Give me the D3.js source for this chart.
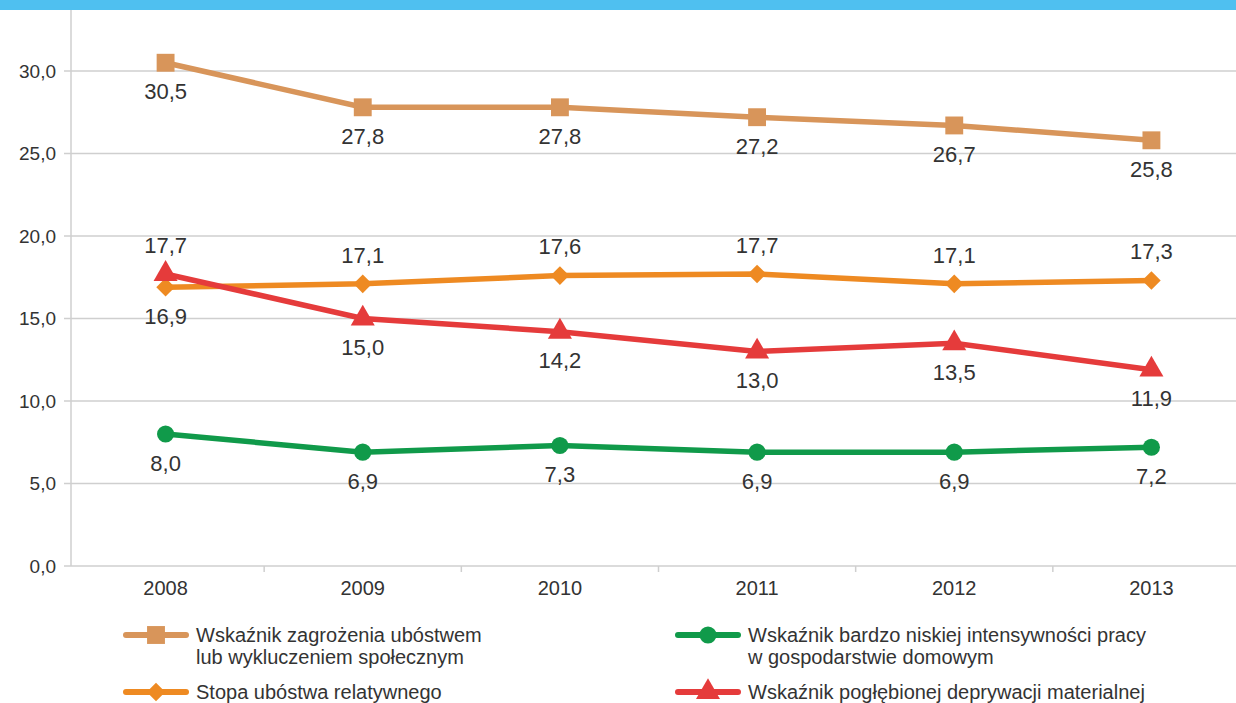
<!DOCTYPE html>
<meta charset="utf-8">
<html lang="pl">
<style>
body { margin: 0; background: #fff; }
.grid line { stroke: #cfcfcf; stroke-width: 1.5px; }
.line { fill: none; stroke-width: 5.5px; }
text { font-family: "Liberation Sans", Arial, sans-serif; fill: #333; }
</style>
<body>
<script src="https://d3js.org/d3.v7.min.js"></script>
<script>

// data
var years = ["2008", "2009", "2010", "2011", "2012", "2013"];
var yTicks = [0, 5, 10, 15, 20, 25, 30];

var zagrozenie = [30.5, 27.8, 27.8, 27.2, 26.7, 25.8];
var ubostwoRel = [16.9, 17.1, 17.6, 17.7, 17.1, 17.3];
var deprywacja = [17.7, 15.0, 14.2, 13.0, 13.5, 11.9];
var intensywnosc = [8.0, 6.9, 7.3, 6.9, 6.9, 7.2];

// label above (-1) or below (+1) the point
var posZagrozenie = [1, 1, 1, 1, 1, 1];
var posUbostwoRel = [1, -1, -1, -1, -1, -1];
var posDeprywacja = [-1, 1, 1, 1, 1, 1];
var posIntensywnosc = [1, 1, 1, 1, 1, 1];

var series = [
  {name: ["Wskaźnik zagrożenia ubóstwem", "lub wykluczeniem społecznym"], values: zagrozenie, pos: posZagrozenie, color: "#d8955a", symbol: d3.symbolSquare, size: 320},
  {name: ["Stopa ubóstwa relatywnego"], values: ubostwoRel, pos: posUbostwoRel, color: "#ee8a22", symbol: d3.symbolDiamond2, size: 220},
  {name: ["Wskaźnik bardzo niskiej intensywności pracy", "w gospodarstwie domowym"], values: intensywnosc, pos: posIntensywnosc, color: "#109a4a", symbol: d3.symbolCircle, size: 230},
  {name: ["Wskaźnik pogłębionej deprywacji materialnej"], values: deprywacja, pos: posDeprywacja, color: "#e53b3b", symbol: d3.symbolTriangle, size: 250}
];

var W = 1236, H = 703;

var svg = d3.select("body").append("svg")
    .attr("width", W)
    .attr("height", H);

// top band
svg.append("rect")
    .attr("x", 0).attr("y", 0)
    .attr("width", W).attr("height", 10)
    .attr("fill", "#4fc0f0");

var x = d3.scaleBand().domain(years).range([67, 1250]);
var y = d3.scaleLinear().domain([0, 35]).range([566, -11.5]);
var cx = function(i) { return x(years[i]) + x.bandwidth() / 2; };

// grid lines
svg.append("g").attr("class", "grid")
  .selectAll("line").data(yTicks).enter().append("line")
    .attr("x1", 64).attr("x2", W)
    .attr("y1", function(d) { return y(d); })
    .attr("y2", function(d) { return y(d); });

// y axis line
svg.append("line")
    .attr("x1", 71).attr("x2", 71)
    .attr("y1", 10).attr("y2", y(0))
    .attr("stroke", "#cfcfcf").attr("stroke-width", 1.5);

// x ticks between categories
svg.append("g").selectAll("line").data(years.slice(1)).enter().append("line")
    .attr("x1", function(d) { return x(d); })
    .attr("x2", function(d) { return x(d); })
    .attr("y1", y(0)).attr("y2", y(0) + 6)
    .attr("stroke", "#cfcfcf").attr("stroke-width", 1.5);

// y tick labels
svg.append("g").selectAll("text").data(yTicks).enter().append("text")
    .attr("x", 56)
    .attr("y", function(d) { return y(d); })
    .attr("dy", "0.35em")
    .attr("text-anchor", "end")
    .style("font-size", "19px")
    .text(function(d) { return d3.format(".1f")(d).replace(".", ","); });

// x labels
svg.append("g").selectAll("text").data(years).enter().append("text")
    .attr("x", function(d, i) { return cx(i); })
    .attr("y", 588)
    .attr("dy", "0.35em")
    .attr("text-anchor", "middle")
    .style("font-size", "20px")
    .text(function(d) { return d; });

var line = d3.line()
    .x(function(d, i) { return cx(i); })
    .y(function(d) { return y(d); });

series.forEach(function(s) {
  svg.append("path")
      .datum(s.values)
      .attr("class", "line")
      .attr("stroke", s.color)
      .attr("d", line);
});

series.forEach(function(s) {
  var g = svg.append("g");
  g.selectAll("path").data(s.values).enter().append("path")
      .attr("d", d3.symbol().type(s.symbol).size(s.size))
      .attr("fill", s.color)
      .attr("transform", function(d, i) { return "translate(" + cx(i) + "," + y(d) + ")"; });
  g.selectAll("text").data(s.values).enter().append("text")
      .attr("x", function(d, i) { return cx(i); })
      .attr("y", function(d, i) { return y(d) + s.pos[i] * 29; })
      .attr("dy", "0.35em")
      .attr("text-anchor", "middle")
      .style("font-size", "22px")
      .text(function(d) { return d3.format(".1f")(d).replace(".", ","); });
});

// legend
var legendPos = [
  {x: 124, y: 635}, {x: 124, y: 692},
  {x: 676, y: 635}, {x: 676, y: 692}
];

series.forEach(function(s, k) {
  var p = legendPos[k];
  var g = svg.append("g").attr("transform", "translate(" + p.x + "," + p.y + ")");
  g.append("line")
      .attr("x1", 2).attr("x2", 62)
      .attr("stroke", s.color).attr("stroke-width", 6)
      .attr("stroke-linecap", "round");
  g.append("path")
      .attr("d", d3.symbol().type(s.symbol).size(s.size))
      .attr("fill", s.color)
      .attr("transform", "translate(32,0)");
  g.selectAll("text").data(s.name).enter().append("text")
      .attr("x", 72)
      .attr("y", function(d, i) { return i * 22; })
      .attr("dy", "0.35em")
      .style("font-size", "20px")
      .text(function(d) { return d; });
});

</script>
</body>
</html>
